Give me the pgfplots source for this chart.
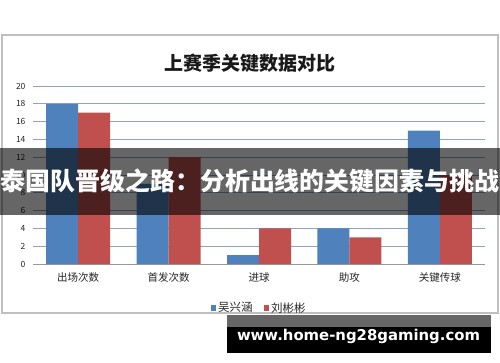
\documentclass[border=0pt]{standalone}
\usepackage{pgfplots}
\pgfplotsset{compat=1.18}
\usepackage{fontspec}
\setmainfont{Noto Sans CJK SC}
\newfontfamily\wmfont{DejaVu Sans}
\definecolor{sblue}{RGB}{79,129,189}
\definecolor{sred}{RGB}{192,80,77}
\definecolor{gridc}{RGB}{140,165,195}
\definecolor{framec}{RGB}{191,191,191}
\begin{document}
\begin{tikzpicture}
\useasboundingbox (0pt,0pt) rectangle (500pt,362pt);
\fill[white] (0pt,0pt) rectangle (500pt,362pt);
\draw[framec, line width=1.2pt, fill=white] (2pt,49pt) rectangle (498pt,327pt);
\node[font=\bfseries\fontsize{19}{22}\selectfont, text=black!90] at (250pt,299pt) {上赛季关键数据对比};
\begin{axis}[
  at={(33pt,98pt)}, anchor=south west,
  scale only axis, width=452pt, height=178pt,
  ybar, bar width=32pt,
  ymin=0, ymax=20, ytick={0,2,...,20},
  xmin=-0.5, xmax=4.5, xtick={0,...,4},
  xticklabels={出场次数,首发次数,进球,助攻,关键传球},
  axis lines*=left,
  y axis line style={draw=none},
  x axis line style={draw=gray!80, line width=0.8pt},
  major tick length=0pt,
  ymajorgrids, grid style={gridc, line width=0.7pt},
  /pgf/number format/assume math mode=true,
  yticklabel style={font=\fontsize{8.5}{10}\selectfont, text=black!85, xshift=-4pt},
  xticklabel style={font=\fontsize{10.5}{12}\selectfont, text=black!85, yshift=-5pt},
  legend style={at={(0.5,-0.247)}, anchor=center, draw=none, fill=none,
    legend columns=2, font=\fontsize{11.5}{13}\selectfont, text=black!85,
    /tikz/every even column/.append style={column sep=9pt}},
  legend image code/.code={\fill[#1] (0pt,-2.7pt) rectangle (5.5pt,2.7pt);},
]
\addplot[fill=sblue, draw=none, bar shift=-16pt] coordinates {(0,18) (1,9) (2,1) (3,4) (4,15)};
\addplot[fill=sred, draw=none, bar shift=16pt] coordinates {(0,17) (1,12) (2,4) (3,3) (4,10)};
\legend{吴兴涵,刘彬彬}
\end{axis}
\fill[black, opacity=0.6] (0pt,147pt) rectangle (500pt,214pt);
\node[white, font=\bfseries\fontsize{24.9}{28}\selectfont, inner sep=0pt] at (250pt,181pt) {泰国队晋级之路：分析出线的关键因素与挑战};
\fill[black!60] (227pt,35pt) rectangle (491pt,47pt);
\fill[black] (227pt,9pt) rectangle (491pt,35pt);
\node[white, inner sep=0pt] at (358.5pt,26pt) {\resizebox{243pt}{!}{\wmfont\bfseries www.home-ng28gaming.com}};
\end{tikzpicture}
\end{document}
